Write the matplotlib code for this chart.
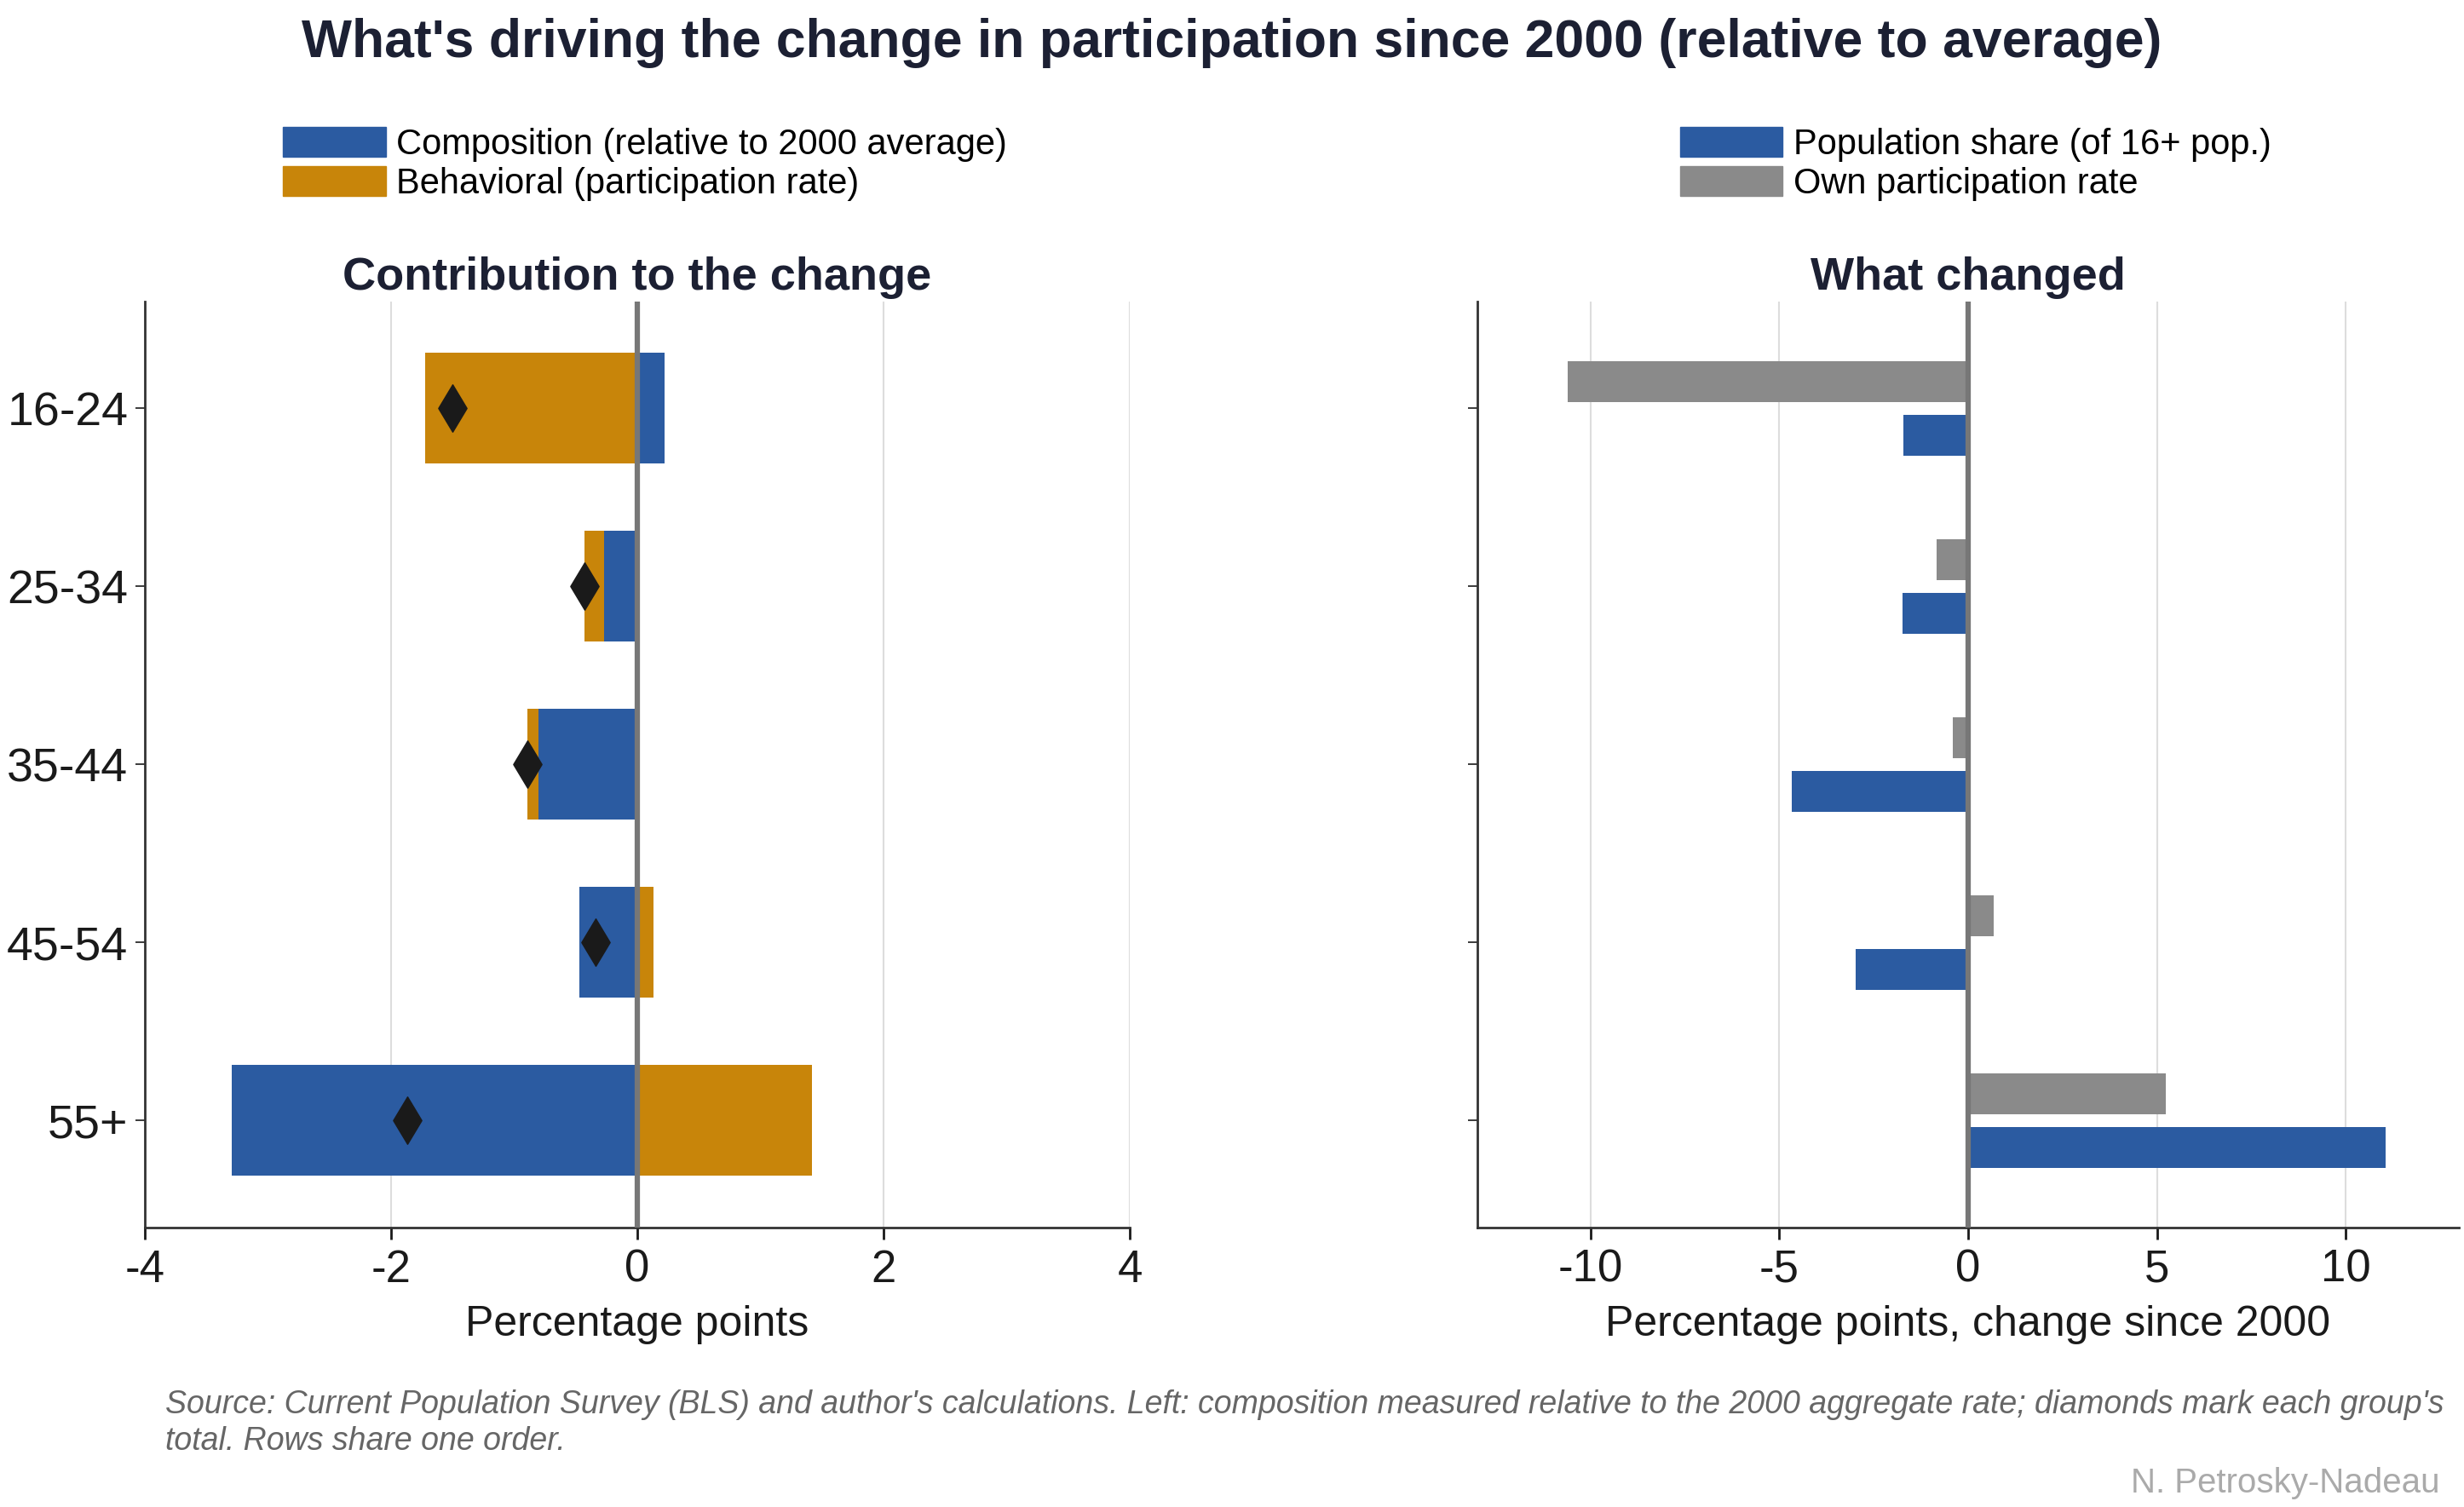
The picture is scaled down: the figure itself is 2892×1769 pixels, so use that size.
import matplotlib
matplotlib.use("Agg")
import matplotlib.pyplot as plt
import numpy as np
from matplotlib.patches import Patch

plt.rcParams['font.family'] = ['Liberation Sans', 'DejaVu Sans']
plt.rcParams['axes.unicode_minus'] = False

groups = ["16-24", "25-34", "35-44", "45-54", "55+"]
composition = [0.22, -0.27, -0.80, -0.47, -3.29]
behavioral = [-1.72, -0.16, -0.09, 0.13, 1.42]
total = [-1.50, -0.43, -0.89, -0.34, -1.87]
pop_share = [-1.71, -1.73, -4.68, -2.97, 11.06]
own_rate = [-10.6, -0.84, -0.41, 0.67, 5.23]

BLUE = "#2b5ba1"
ORANGE = "#c8850a"
GRAY = "#8a8a8a"
DARK = "#1c2033"

fig = plt.figure(figsize=(28.92, 17.69), dpi=100)
ax1 = fig.add_axes([0.0587, 0.1856, 0.3998, 0.6144])
ax2 = fig.add_axes([0.5995, 0.1856, 0.3985, 0.6144])

y = np.arange(len(groups))

lb = [a if np.sign(a) == np.sign(b) else 0 for a, b in zip(composition, behavioral)]
ax1.barh(y, composition, height=0.62, color=BLUE, zorder=2)
ax1.barh(y, behavioral, left=lb, height=0.62, color=ORANGE, zorder=2)
ax1.scatter(total, y, marker='d', s=800, color='#1a1a1a', zorder=4)
ax1.set_xlim(-4, 4)
ax1.set_xticks([-4, -2, 0, 2, 4])
ax1.set_xlabel("Percentage points", fontsize=36, color='#1a1a1a', labelpad=12)
ax1.set_title("Contribution to the change", fontsize=39, fontweight='bold', color=DARK, pad=10)

h = 0.23
ax2.barh(y - 0.15, own_rate, height=h, color=GRAY, zorder=2)
ax2.barh(y + 0.15, pop_share, height=h, color=BLUE, zorder=2)
ax2.set_xlim(-13, 13)
ax2.set_xticks([-10, -5, 0, 5, 10])
ax2.set_xlabel("Percentage points, change since 2000", fontsize=36, color='#1a1a1a', labelpad=12)
ax2.set_title("What changed", fontsize=39, fontweight='bold', color=DARK, pad=10)

for ax in (ax1, ax2):
    ax.set_ylim(4.6, -0.6)
    ax.set_yticks(y)
    ax.axvline(0, color='#777777', lw=4.5, zorder=3)
    ax.grid(axis='x', color='#dddddd', lw=1.5, zorder=0)
    ax.set_axisbelow(True)
    for s in ('top', 'right'):
        ax.spines[s].set_visible(False)
    for s in ('left', 'bottom'):
        ax.spines[s].set_color('#333333')
        ax.spines[s].set_linewidth(2)
    ax.tick_params(axis='x', labelsize=38, length=10, width=2, colors='#1a1a1a', pad=8)
    ax.tick_params(axis='y', labelsize=40, length=8, width=1.2, colors='#1a1a1a', pad=6)
ax1.set_yticklabels(groups)
ax2.set_yticklabels([])

leg_kw = dict(frameon=False, fontsize=30, handlelength=2.9, handleheight=0.9,
              labelspacing=0.12, handletextpad=0.3, borderaxespad=0, loc='upper left')
fig.legend(handles=[Patch(color=BLUE, label="Composition (relative to 2000 average)"),
                    Patch(color=ORANGE, label="Behavioral (participation rate)")],
           bbox_to_anchor=(0.109, 0.925), **leg_kw)
fig.legend(handles=[Patch(color=BLUE, label="Population share (of 16+ pop.)"),
                    Patch(color=GRAY, label="Own participation rate")],
           bbox_to_anchor=(0.676, 0.925), **leg_kw)

fig.text(0.5, 0.988, "What's driving the change in participation since 2000 (relative to average)",
         ha='center', va='top', fontsize=45, fontweight='bold', color=DARK)
fig.text(0.067, 0.078, "Source: Current Population Survey (BLS) and author's calculations. Left: composition measured relative to the 2000 aggregate rate; diamonds mark each group's\ntotal. Rows share one order.",
         ha='left', va='top', fontsize=27, style='italic', color='#666666', linespacing=1.25)
fig.text(0.99, 0.005, "N. Petrosky-Nadeau", ha='right', va='bottom', fontsize=29, color='#aaaaaa')

fig.savefig("out.png", dpi=100)
